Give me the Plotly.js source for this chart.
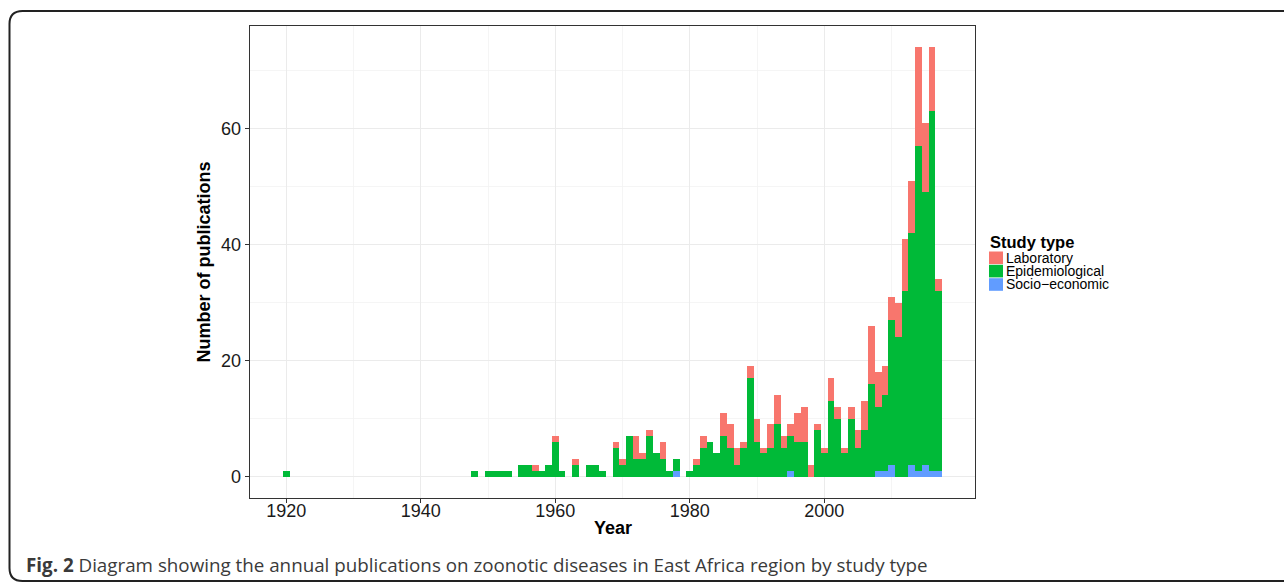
<!DOCTYPE html>
<html>
<head>
<meta charset="utf-8">
<script src="https://cdn.plot.ly/plotly-3.0.1.min.js"></script>
<style>
  html, body { margin: 0; padding: 0; background: #fff; }
  #chart { width: 1284px; height: 582px; }
</style>
</head>
<body>
<div id="chart"></div>
<script>
// ---- Data ----
const years = [1920, 1948, 1950, 1951, 1952, 1953, 1955, 1956, 1957, 1958, 1959, 1960, 1961, 1963, 1965, 1966, 1967, 1969, 1970,
  1971, 1972, 1973, 1974, 1975, 1976, 1977, 1978, 1980, 1981, 1982, 1983, 1984, 1985, 1986, 1987, 1988, 1989, 1990,
  1991, 1992, 1993, 1994, 1995, 1996, 1997, 1998, 1999, 2000, 2001, 2002, 2003, 2004, 2005, 2006, 2007, 2008, 2009,
  2010, 2011, 2012, 2013, 2014, 2015, 2016, 2017];
const socioEconomic = [0, 0, 0, 0, 0, 0, 0, 0, 0, 0, 0, 0, 0, 0, 0, 0, 0, 0, 0,
  0, 0, 0, 0, 0, 0, 0, 1, 0, 0, 0, 0, 0, 0, 0, 0, 0, 0, 0,
  0, 0, 0, 0, 1, 0, 0, 0, 0, 0, 0, 0, 0, 0, 0, 0, 0, 1, 1,
  2, 0, 0, 2, 1, 2, 1, 1];
const epidemiological = [1, 1, 1, 1, 1, 1, 2, 2, 1, 1, 2, 6, 1, 2, 2, 2, 1, 5, 2,
  7, 3, 3, 7, 4, 3, 1, 2, 1, 2, 5, 6, 4, 7, 5, 2, 5, 17, 6,
  4, 5, 9, 5, 6, 6, 6, 0, 8, 4, 13, 10, 4, 10, 5, 8, 16, 11, 13,
  25, 24, 32, 40, 56, 47, 62, 31];
const laboratory = [0, 0, 0, 0, 0, 0, 0, 0, 1, 0, 0, 1, 0, 1, 0, 0, 0, 1, 1,
  0, 4, 1, 1, 0, 3, 0, 0, 0, 1, 2, 0, 0, 4, 4, 3, 1, 2, 4,
  1, 4, 5, 2, 2, 5, 6, 2, 1, 1, 4, 2, 1, 2, 3, 5, 10, 6, 5,
  4, 6, 9, 9, 17, 12, 11, 2];

const seriesNames = ['Laboratory', 'Epidemiological', 'Socio\u2212economic'];
const seriesColors = ['#F8766D', '#00BA38', '#619CFF'];
const xTickVals = [1920, 1940, 1960, 1980, 2000];
const yTickVals = [0, 20, 40, 60];
const xTitle = 'Year';
const yTitle = 'Number of publications';
const legendTitle = 'Study type';
const captionBold = 'Fig. 2';
const captionText = 'Diagram showing the annual publications on zoonotic diseases in East Africa region by study type';

// ---- Layout geometry ----
const W = 1284, H = 582;
const M = { l: 250, r: 309, t: 26, b: 84 };
const PW = W - M.l - M.r, PH = H - M.t - M.b;
const px = x => (x - M.l) / PW;
const py = y => (H - M.b - y) / PH;

const FONT = 'Liberation Sans, Arial, Helvetica, sans-serif';

function barTrace(name, values, color) {
  return {
    type: 'bar', name: name, x: years, y: values, width: 1,
    marker: { color: color, line: { width: 0 } },
    showlegend: false, hoverinfo: 'x+y+name'
  };
}

// stacking order: bottom first
const data = [
  barTrace(seriesNames[2], socioEconomic, seriesColors[2]),
  barTrace(seriesNames[1], epidemiological, seriesColors[1]),
  barTrace(seriesNames[0], laboratory, seriesColors[0])
];

// manual legend
const legendKeyTop = [251.5, 264.8, 278.2];
const legendKeyH = 12.6;
const shapes = [];
const annotations = [];
annotations.push({
  xref: 'paper', yref: 'paper', x: px(988), y: py(242), xanchor: 'left', yanchor: 'middle',
  text: '<b>' + legendTitle + '</b>', showarrow: false,
  font: { family: FONT, size: 16.5, color: '#000' }
});
for (let i = 0; i < 3; i++) {
  shapes.push({
    type: 'rect', xref: 'paper', yref: 'paper',
    x0: px(989), x1: px(1003), y0: py(legendKeyTop[i]), y1: py(legendKeyTop[i] + legendKeyH),
    fillcolor: seriesColors[i], line: { width: 0 }
  });
  annotations.push({
    xref: 'paper', yref: 'paper', x: px(1003.5), y: py(legendKeyTop[i] + legendKeyH / 2), xanchor: 'left', yanchor: 'middle',
    text: seriesNames[i], showarrow: false,
    font: { family: FONT, size: 14, color: '#000' }
  });
}

// x-axis title
annotations.push({
  xref: 'paper', yref: 'paper', x: 0.5, y: py(527.5), xanchor: 'center', yanchor: 'middle',
  text: '<b>' + xTitle + '</b>', showarrow: false,
  font: { family: FONT, size: 18, color: '#000' }
});

// caption
annotations.push({
  xref: 'paper', yref: 'paper', x: px(24), y: py(565), xanchor: 'left', yanchor: 'middle',
  text: '<b>' + captionBold + '</b> ' + captionText, showarrow: false,
  font: { family: 'Open Sans, sans-serif', size: 18.8, color: '#3a3a3a' }
});

// outer rounded frame
const fl = 9.5, ft = 11, fb = 581, fr = 1310, rad = 13;
shapes.push({
  type: 'path', xref: 'paper', yref: 'paper',
  path: `M ${px(fr)},${py(ft)} L ${px(fl + rad)},${py(ft)} Q ${px(fl)},${py(ft)} ${px(fl)},${py(ft + rad)} ` +
        `L ${px(fl)},${py(fb - rad)} Q ${px(fl)},${py(fb)} ${px(fl + rad)},${py(fb)} L ${px(fr)},${py(fb)}`,
  line: { color: '#222', width: 2 }
});

const layout = {
  width: W, height: H,
  margin: M,
  paper_bgcolor: '#fff', plot_bgcolor: '#fff',
  barmode: 'stack', bargap: 0,
  showlegend: false,
  font: { family: FONT, color: '#1a1a1a' },
  xaxis: {
    range: [1914.6, 2022.4],
    tickmode: 'array', tickvals: xTickVals, ticktext: xTickVals.map(String),
    ticks: 'outside', ticklen: 4, tickwidth: 1.1, tickcolor: '#333',
    ticklabelstandoff: -8,
    tickfont: { family: FONT, size: 18, color: '#1a1a1a' },
    showgrid: true, gridcolor: '#ebebeb', gridwidth: 1.2,
    minor: { tickmode: 'array', tickvals: [1930, 1950, 1970, 1990, 2010], showgrid: true, gridcolor: '#f2f2f2', gridwidth: 0.8, ticks: '' },
    showline: true, mirror: true, linecolor: '#333', linewidth: 1.3,
    zeroline: false
  },
  yaxis: {
    range: [-3.7, 77.7],
    tickmode: 'array', tickvals: yTickVals, ticktext: yTickVals.map(String),
    ticks: 'outside', ticklen: 4, tickwidth: 1.1, tickcolor: '#333',
    tickfont: { family: FONT, size: 18, color: '#1a1a1a' },
    showgrid: true, gridcolor: '#ebebeb', gridwidth: 1.2,
    minor: { tickmode: 'array', tickvals: [10, 30, 50, 70], showgrid: true, gridcolor: '#f2f2f2', gridwidth: 0.8, ticks: '' },
    showline: true, mirror: true, linecolor: '#333', linewidth: 1.3,
    zeroline: false,
    title: { text: '<b>' + yTitle + '</b>', font: { family: FONT, size: 18, color: '#000' }, standoff: 5 }
  },
  shapes: shapes,
  annotations: annotations
};

Plotly.newPlot('chart', data, layout, { displayModeBar: false, staticPlot: true });
</script>
</body>
</html>
